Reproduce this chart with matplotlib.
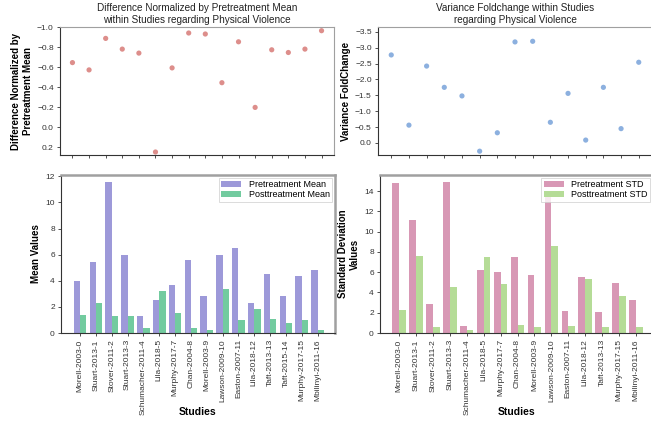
import matplotlib
matplotlib.use('Agg')
import matplotlib.pyplot as plt
import numpy as np

plt.rcParams['font.family'] = ['Liberation Sans', 'DejaVu Sans']

# studies with mean values (physical violence)
mean_studies = ['Morell-2003-0', 'Stuart-2013-1', 'Stover-2011-2', 'Stuart-2013-3',
                'Schumacher-2011-4', 'Lila-2018-5', 'Murphy-2017-7', 'Chan-2004-8',
                'Morell-2003-9', 'Lawson-2009-10', 'Easton-2007-11', 'Lila-2018-12',
                'Taft-2013-13', 'Taft-2015-14', 'Murphy-2017-15', 'Mbilinyi-2011-16']
pre_mean = [3.95, 5.40, 11.6, 6.00, 1.30, 2.56, 3.66, 5.62,
            2.82, 6.00, 6.54, 2.27, 4.50, 2.82, 4.33, 4.81]
post_mean = [1.41, 2.33, 1.30, 1.33, 0.35, 3.20, 1.52, 0.35,
             0.21, 3.34, 0.98, 1.83, 1.05, 0.73, 0.97, 0.20]
diff_norm = [-0.644, -0.571, -0.886, -0.779, -0.739, 0.250, -0.591, -0.940,
             -0.930, -0.443, -0.852, -0.196, -0.772, -0.745, -0.779, -0.963]

# studies with standard deviations
std_studies = ['Morell-2003-0', 'Stuart-2013-1', 'Stover-2011-2', 'Stuart-2013-3',
               'Schumacher-2011-4', 'Lila-2018-5', 'Murphy-2017-7', 'Chan-2004-8',
               'Morell-2003-9', 'Lawson-2009-10', 'Easton-2007-11', 'Lila-2018-12',
               'Taft-2013-13', 'Murphy-2017-15', 'Mbilinyi-2011-16']
pre_std = [14.85, 11.13, 2.91, 14.92, 0.72, 6.18, 6.01, 7.53,
           5.74, 13.5, 2.13, 5.54, 2.07, 4.92, 3.27]
post_std = [2.30, 7.60, 0.56, 4.52, 0.26, 7.53, 4.79, 0.83,
            0.63, 8.61, 0.72, 5.32, 0.62, 3.66, 0.56]
var_foldchange = [-2.77, -0.56, -2.42, -1.75, -1.48, 0.26, -0.32, -3.18,
                  -3.20, -0.65, -1.56, -0.09, -1.75, -0.45, -2.54]

W, H = 651, 424


def px_axes(fig, x0, y0, x1, y1):
    return fig.add_axes([x0 / W, 1 - y1 / H, (x1 - x0) / W, (y1 - y0) / H])


def style_axes(ax, frame_lw):
    for side in ('left', 'bottom'):
        ax.spines[side].set_color('#333333')
        ax.spines[side].set_linewidth(0.8)
    for side in ('top', 'right'):
        ax.spines[side].set_color('#a0a0a0')
        ax.spines[side].set_linewidth(frame_lw)
    ax.tick_params(labelsize=6, colors='#333333', length=2.5, width=0.6, pad=2)


def scatter_panel(ax, values, color, title, ylabel, ylim, yticks):
    x = np.arange(len(values))
    ax.scatter(x, values, s=14, color=color, edgecolors='none')
    ax.set_xticks(x)
    ax.set_xticklabels([])
    ax.set_xlim(-0.75, len(values) - 0.25)
    ax.set_ylim(*ylim)
    ax.set_yticks(yticks)
    ax.set_title(title, fontsize=7.2, pad=3, color='#222222')
    ax.set_ylabel(ylabel, fontsize=7, fontweight='bold', labelpad=3)
    style_axes(ax, 0.8)


def bar_panel(ax, labels, pre, post, colors, names, ylabel, ylim, yticks, xlim):
    x = np.arange(len(labels))
    w = 0.4
    ax.bar(x - w / 2, pre, w, color=colors[0], label=names[0])
    ax.bar(x + w / 2, post, w, color=colors[1], label=names[1])
    ax.set_xticks(x)
    ax.set_xticklabels(labels, rotation=90)
    ax.set_xlim(*xlim)
    ax.set_ylim(*ylim)
    ax.set_yticks(yticks)
    ax.set_xlabel('Studies', fontsize=7.5, fontweight='bold')
    # the long rotated study names push the label too far down, pin it instead
    ax.xaxis.set_label_coords(0.5, -0.47)
    ax.set_ylabel(ylabel, fontsize=7, fontweight='bold', labelpad=3)
    leg = ax.legend(loc='upper right', fontsize=6.5, frameon=True, borderpad=0.3,
                    handlelength=2.2, handleheight=0.6, labelspacing=0.1,
                    borderaxespad=0.3, fancybox=False)
    leg.get_frame().set_edgecolor('#cccccc')
    leg.get_frame().set_linewidth(0.6)
    style_axes(ax, 1.8)


def main():
    fig = plt.figure(figsize=(W / 100, H / 100), dpi=100)

    ax1 = px_axes(fig, 60, 27, 334, 155)
    scatter_panel(ax1, diff_norm, '#dd8e8b',
                  'Difference Normalized by Pretreatment Mean\n'
                  'within Studies regarding Physical Violence',
                  'Difference Normalized by\nPretreatment Mean',
                  (0.28, -1.0), np.arange(-1.0, 0.21, 0.2))

    ax2 = px_axes(fig, 378, 27, 652, 155)
    scatter_panel(ax2, var_foldchange, '#8cb0df',
                  'Variance Foldchange within Studies\n'
                  'regarding Physical Violence',
                  'Variance FoldChange',
                  (0.38, -3.65), np.arange(-3.5, 0.01, 0.5))

    ax3 = px_axes(fig, 61, 175, 335, 333)
    bar_panel(ax3, mean_studies, pre_mean, post_mean, ('#9d99d9', '#72cb9f'),
              ('Pretreatment Mean', 'Posttreatment Mean'), 'Mean Values',
              (0, 12.1), range(0, 13, 2), (-1.2, 16.1))

    ax4 = px_axes(fig, 380, 175, 653, 333)
    bar_panel(ax4, std_studies, pre_std, post_std, ('#d898b5', '#b5dc97'),
              ('Pretreatment STD', 'Posttreatment STD'),
              'Standard Deviation\nValues',
              (0, 15.6), range(0, 15, 2), (-1.12, 15.0))

    fig.savefig('out.png', dpi=100)


if __name__ == '__main__':
    main()
